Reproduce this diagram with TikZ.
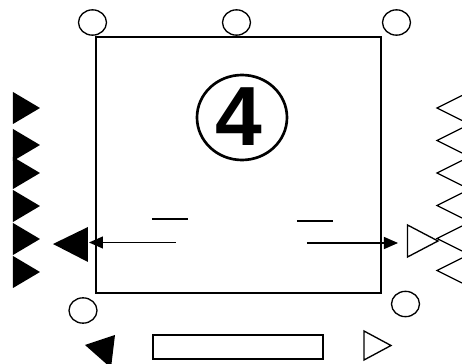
\documentclass[tikz,border=0pt]{standalone}
\usepackage{fontspec}
\newfontfamily\digitfont{Liberation Sans}
\usetikzlibrary{shapes.geometric,arrows.meta}
\begin{document}
\begin{tikzpicture}[x=0.75pt,y=0.75pt,yscale=-1,xscale=1,line width=1pt,
  ring/.style={draw,ellipse,inner sep=0pt,minimum width=21pt,minimum height=19pt},
  pin/.style={-{Triangle[length=10.5pt,width=9pt]}}]
\useasboundingbox (0,0) rectangle (462,364);
\clip (0,0) rectangle (462,364);

%Shape: Rectangle [id:frame] 
\draw (96,37) rectangle (381,293) ;
%Shape: Rectangle [id:bar] 
\draw (153,335) rectangle (323,359) ;

%Shape: Circles top and bottom
\node [ring] (ringA) at (92.5,22.5) {};
\node [ring] (ringB) at (236.5,22.5) {};
\node [ring] (ringC) at (396.5,22.5) {};
\node [ring] (ringD) at (83,310.5) {};
\node [ring] (ringE) at (405.5,304) {};

%Shape: Big circled number
\draw [line width=2pt] (242,117.5) ellipse (45 and 42.5) ;
\node [inner sep=0pt] (num) at (239,117) {\digitfont\fontsize{63}{63}\selectfont\bfseries 4};

%Shape: Filled triangles, left column
\foreach \c in {108,145,173,206,239,272}
  \fill (13,\c-16) -- (40,\c) -- (13,\c+16) -- cycle ;
%Shape: Open triangles, right column
\foreach \c in {108,140.5,173,205.5,238.5,270.5}
  \draw (462,\c-12.5) -- (437,\c) -- (462,\c+12.5) ;

%Shape: Big filled triangle left
\fill (53,244) -- (88,227) -- (88,262) -- cycle ;
%Shape: Open triangle right
\draw (407.5,225) -- (438,241) -- (407.5,257) -- cycle ;
%Shape: Filled triangle bottom left
\fill (85,345) -- (115,335) -- (111,368) -- cycle ;
%Shape: Open triangle bottom right
\draw (364,331) -- (391,345.5) -- (364,360) -- cycle ;

%Straight Lines short dashes
\coordinate (dashAl) at (152,219) ;
\coordinate (dashAr) at (188,219) ;
\coordinate (dashBl) at (297,221) ;
\coordinate (dashBr) at (333,221) ;
\draw (dashAl) -- (dashAr) ;
\draw (dashBl) -- (dashBr) ;

%Straight Lines arrows
\coordinate (arrAs) at (176,242.5) ;
\coordinate (arrAe) at (89,242.5) ;
\coordinate (arrBs) at (307,243) ;
\coordinate (arrBe) at (398,243) ;
\draw [pin] (arrAs) -- (arrAe) ;
\draw [pin] (arrBs) -- (arrBe) ;

\end{tikzpicture}
\end{document}
